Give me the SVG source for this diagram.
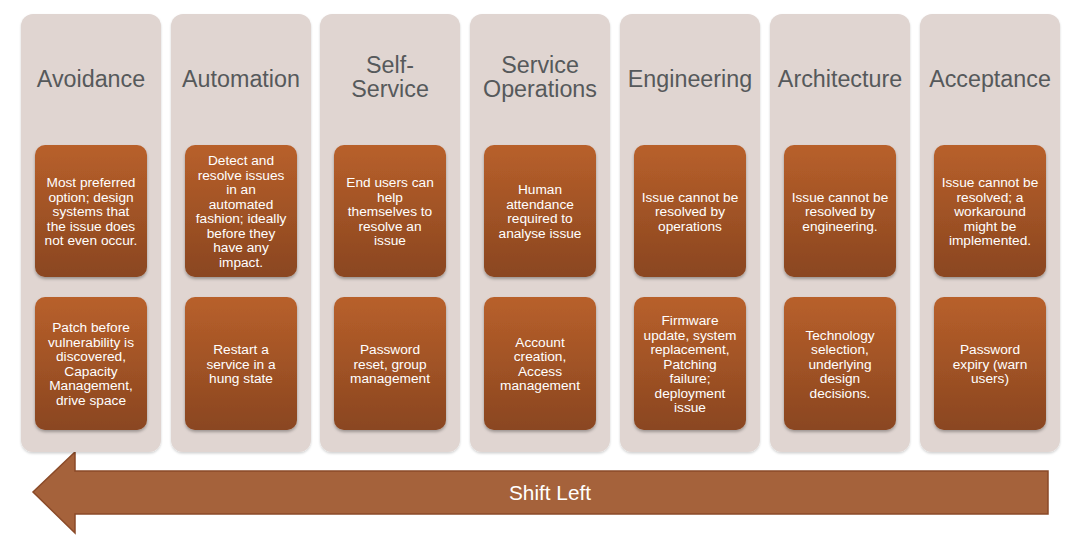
<svg xmlns="http://www.w3.org/2000/svg" width="1072" height="538" viewBox="0 0 1072 538">
<defs>
<linearGradient id="boxg" x1="0" y1="0" x2="0" y2="1">
<stop offset="0" stop-color="#B8602B"/>
<stop offset="1" stop-color="#8A4620"/>
</linearGradient>
<filter id="sh" x="-10%" y="-10%" width="120%" height="120%">
<feDropShadow dx="0" dy="2" stdDeviation="1.5" flood-color="#000" flood-opacity="0.3"/>
</filter>
<filter id="csh" x="-10%" y="-10%" width="120%" height="120%">
<feDropShadow dx="0" dy="1.5" stdDeviation="1.2" flood-color="#000" flood-opacity="0.18"/>
</filter>
</defs>
<style>
.col{fill:#E0D5D1;filter:url(#csh)}
.box{fill:url(#boxg);filter:url(#sh)}
.t{font-family:"Liberation Sans",Arial,sans-serif;font-size:23.3px;fill:#56595b;text-anchor:middle}
.b{font-family:"Liberation Sans",Arial,sans-serif;font-size:13.7px;fill:#ffffff;text-anchor:middle}
.s{font-family:"Liberation Sans",Arial,sans-serif;font-size:20.8px;fill:#ffffff;text-anchor:middle}
</style>
<rect width="1072" height="538" fill="#ffffff"/>

<g id="connectors">
<path d="M1048,471 L75,471 L75,452 L33,492 L75,533 L75,514 L1048,514 Z" fill="#A5623B" stroke="#8A4A28" stroke-width="1.5"/>
<text class="s" x="550" y="500">Shift Left</text>
</g>

<g id="avoidance">
<rect class="col" x="21" y="14" width="140" height="438" rx="12"/>
<text class="t" x="91" y="87">Avoidance</text>
<rect class="box" x="35" y="145" width="112" height="132" rx="10"/>
<text class="b" x="91"><tspan x="91" y="187">Most preferred</tspan><tspan x="91" y="201.5">option; design</tspan><tspan x="91" y="216">systems that</tspan><tspan x="91" y="230.5">the issue does</tspan><tspan x="91" y="245">not even occur.</tspan></text>
<rect class="box" x="35" y="297" width="112" height="133" rx="10"/>
<text class="b" x="91"><tspan x="91" y="332">Patch before</tspan><tspan x="91" y="346.5">vulnerability is</tspan><tspan x="91" y="361">discovered,</tspan><tspan x="91" y="375.5">Capacity</tspan><tspan x="91" y="390">Management,</tspan><tspan x="91" y="404.5">drive space</tspan></text>
</g>

<g id="automation">
<rect class="col" x="171" y="14" width="140" height="438" rx="12"/>
<text class="t" x="241" y="87">Automation</text>
<rect class="box" x="185" y="145" width="112" height="132" rx="10"/>
<text class="b" x="241"><tspan x="241" y="165">Detect and</tspan><tspan x="241" y="179.5">resolve issues</tspan><tspan x="241" y="194">in an</tspan><tspan x="241" y="208.5">automated</tspan><tspan x="241" y="223">fashion; ideally</tspan><tspan x="241" y="237.5">before they</tspan><tspan x="241" y="252">have any</tspan><tspan x="241" y="266.5">impact.</tspan></text>
<rect class="box" x="185" y="297" width="112" height="133" rx="10"/>
<text class="b" x="241"><tspan x="241" y="354">Restart a</tspan><tspan x="241" y="368.5">service in a</tspan><tspan x="241" y="383">hung state</tspan></text>
</g>

<g id="self-service">
<rect class="col" x="320" y="14" width="140" height="438" rx="12"/>
<text class="t" x="390"><tspan x="390" y="73">Self-</tspan><tspan x="390" y="97">Service</tspan></text>
<rect class="box" x="334" y="145" width="112" height="132" rx="10"/>
<text class="b" x="390"><tspan x="390" y="187">End users can</tspan><tspan x="390" y="201.5">help</tspan><tspan x="390" y="216">themselves to</tspan><tspan x="390" y="230.5">resolve an</tspan><tspan x="390" y="245">issue</tspan></text>
<rect class="box" x="334" y="297" width="112" height="133" rx="10"/>
<text class="b" x="390"><tspan x="390" y="354">Password</tspan><tspan x="390" y="368.5">reset, group</tspan><tspan x="390" y="383">management</tspan></text>
</g>

<g id="service-operations">
<rect class="col" x="470" y="14" width="140" height="438" rx="12"/>
<text class="t" x="540"><tspan x="540" y="73">Service</tspan><tspan x="540" y="97">Operations</tspan></text>
<rect class="box" x="484" y="145" width="112" height="132" rx="10"/>
<text class="b" x="540"><tspan x="540" y="194">Human</tspan><tspan x="540" y="208.5">attendance</tspan><tspan x="540" y="223">required to</tspan><tspan x="540" y="237.5">analyse issue</tspan></text>
<rect class="box" x="484" y="297" width="112" height="133" rx="10"/>
<text class="b" x="540"><tspan x="540" y="346.5">Account</tspan><tspan x="540" y="361">creation,</tspan><tspan x="540" y="375.5">Access</tspan><tspan x="540" y="390">management</tspan></text>
</g>

<g id="engineering">
<rect class="col" x="620" y="14" width="140" height="438" rx="12"/>
<text class="t" x="690" y="87">Engineering</text>
<rect class="box" x="634" y="145" width="112" height="132" rx="10"/>
<text class="b" x="690"><tspan x="690" y="201.5">Issue cannot be</tspan><tspan x="690" y="216">resolved by</tspan><tspan x="690" y="230.5">operations</tspan></text>
<rect class="box" x="634" y="297" width="112" height="133" rx="10"/>
<text class="b" x="690"><tspan x="690" y="325">Firmware</tspan><tspan x="690" y="339.5">update, system</tspan><tspan x="690" y="354">replacement,</tspan><tspan x="690" y="368.5">Patching</tspan><tspan x="690" y="383">failure;</tspan><tspan x="690" y="397.5">deployment</tspan><tspan x="690" y="412">issue</tspan></text>
</g>

<g id="architecture">
<rect class="col" x="770" y="14" width="140" height="438" rx="12"/>
<text class="t" x="840" y="87">Architecture</text>
<rect class="box" x="784" y="145" width="112" height="132" rx="10"/>
<text class="b" x="840"><tspan x="840" y="201.5">Issue cannot be</tspan><tspan x="840" y="216">resolved by</tspan><tspan x="840" y="230.5">engineering.</tspan></text>
<rect class="box" x="784" y="297" width="112" height="133" rx="10"/>
<text class="b" x="840"><tspan x="840" y="339.5">Technology</tspan><tspan x="840" y="354">selection,</tspan><tspan x="840" y="368.5">underlying</tspan><tspan x="840" y="383">design</tspan><tspan x="840" y="397.5">decisions.</tspan></text>
</g>

<g id="acceptance">
<rect class="col" x="920" y="14" width="140" height="438" rx="12"/>
<text class="t" x="990" y="87">Acceptance</text>
<rect class="box" x="934" y="145" width="112" height="132" rx="10"/>
<text class="b" x="990"><tspan x="990" y="187">Issue cannot be</tspan><tspan x="990" y="201.5">resolved; a</tspan><tspan x="990" y="216">workaround</tspan><tspan x="990" y="230.5">might be</tspan><tspan x="990" y="245">implemented.</tspan></text>
<rect class="box" x="934" y="297" width="112" height="133" rx="10"/>
<text class="b" x="990"><tspan x="990" y="354">Password</tspan><tspan x="990" y="368.5">expiry (warn</tspan><tspan x="990" y="383">users)</tspan></text>
</g>
</svg>
